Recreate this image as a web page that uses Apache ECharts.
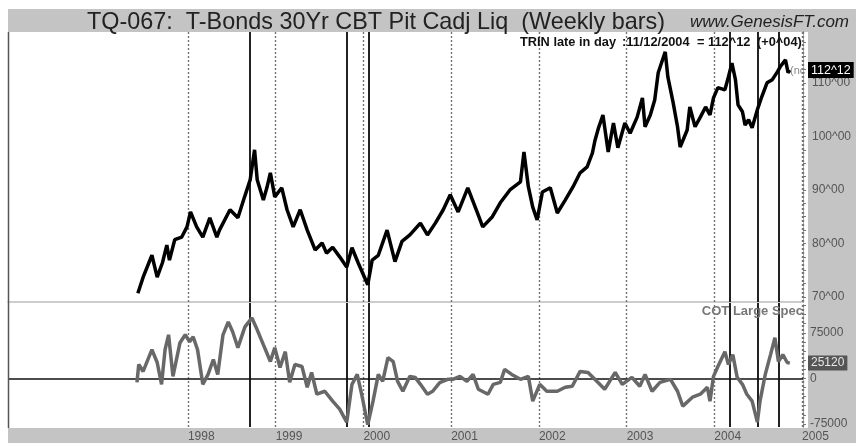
<!DOCTYPE html>
<html><head><meta charset="utf-8">
<script src="https://cdn.jsdelivr.net/npm/echarts@6/dist/echarts.min.js"></script>
<style>html,body{margin:0;padding:0;background:#fff}#c{width:856px;height:443px}</style>
</head><body><div id="c"></div>
<script>
// ---- Data ----
const priceDates = [1997.43,1997.49,1997.59,1997.65,1997.71,1997.76,1997.79,1997.85,1997.93,1997.99,
  1998.03,1998.10,1998.17,1998.25,1998.33,1998.36,1998.48,1998.57,1998.65,1998.71,1998.76,1998.79,1998.86,1998.90,1998.94,1998.99,
  1999.07,1999.13,1999.20,1999.28,1999.36,1999.45,1999.53,1999.58,1999.65,1999.73,1999.81,1999.87,1999.94,
  2000.05,2000.10,2000.17,2000.27,2000.36,2000.44,2000.53,2000.65,2000.73,2000.82,2000.91,2000.99,
  2001.08,2001.19,2001.30,2001.36,2001.47,2001.56,2001.67,2001.79,2001.83,2001.88,2001.93,2001.98,
  2002.04,2002.13,2002.21,2002.30,2002.39,2002.47,2002.55,2002.61,2002.64,2002.68,2002.73,2002.79,2002.85,2002.90,2002.98,
  2003.04,2003.12,2003.18,2003.21,2003.27,2003.32,2003.36,2003.44,2003.47,2003.53,2003.58,2003.61,2003.69,2003.72,2003.78,2003.84,2003.90,2003.95,2003.99,
  2004.04,2004.12,2004.16,2004.20,2004.24,2004.27,2004.32,2004.35,2004.39,2004.43,2004.49,2004.54,2004.60,2004.66,2004.72,2004.75,2004.81,2004.84,2004.86];
const priceValues = [70.7,73.7,77.8,73.7,76.4,79.7,76.9,80.7,81.2,83.1,
  85.9,83.1,81.2,84.8,81.2,82.5,86.3,84.8,88.9,91.9,97.5,91.9,88.1,90.4,93.2,88.7,
  90.4,86.3,83.1,86.3,82.5,78.8,80.1,78.2,79.3,77.5,75.6,79.2,76.4,
  72.3,76.9,77.8,82.5,76.6,80.4,81.6,83.8,81.6,83.8,86.3,89.1,
  85.9,90.4,85.7,83.1,85.0,87.6,90.0,91.5,97.1,90.6,86.8,84.4,
  89.6,90.4,85.7,88.1,90.6,93.2,94.3,96.9,99.3,101.6,104.0,97.1,102.5,97.9,102.5,
  100.6,103.6,107.2,101.8,104.0,106.8,111.9,115.8,111.1,106.3,101.8,98.0,101.2,105.5,101.8,103.6,105.5,104.0,107.2,
  109.1,108.7,111.1,113.7,110.6,105.9,104.6,102.1,103.1,101.6,105.0,107.4,110.0,110.6,112.1,113.0,114.3,111.9,112.4];
const lastPrice = 112.375;   // 112^12

const cotDates = [1997.42,1997.44,1997.49,1997.59,1997.65,1997.70,1997.74,1997.78,1997.83,1997.91,1997.97,
  1998.02,1998.06,1998.11,1998.17,1998.23,1998.29,1998.34,1998.40,1998.46,1998.51,1998.57,1998.65,1998.73,1998.79,1998.86,1998.94,1998.99,
  1999.05,1999.11,1999.16,1999.22,1999.30,1999.36,1999.41,1999.47,1999.56,1999.65,1999.73,1999.81,1999.87,1999.93,1999.98,
  2000.05,2000.11,2000.17,2000.22,2000.28,2000.34,2000.39,2000.45,2000.53,2000.59,2000.65,2000.73,2000.79,2000.87,2000.96,
  2001.02,2001.10,2001.18,2001.25,2001.31,2001.42,2001.48,2001.56,2001.61,2001.69,2001.79,2001.88,2001.93,
  2002.01,2002.09,2002.21,2002.30,2002.38,2002.47,2002.56,2002.66,2002.75,2002.87,2002.95,
  2003.06,2003.15,2003.21,2003.29,2003.38,2003.50,2003.58,2003.64,2003.75,2003.84,2003.92,2003.95,2003.99,
  2004.04,2004.12,2004.16,2004.21,2004.26,2004.32,2004.37,2004.43,2004.49,2004.52,2004.58,2004.64,2004.69,2004.73,2004.78,2004.83,2004.86];
const cotValues = [-6500,22800,11400,47300,26100,-9800,47300,71700,3300,58700,71700,
  60300,68500,47300,-9800,6500,31000,6500,71700,92900,76600,50500,84800,99400,79900,55400,27700,50500,
  17900,44000,-6500,22800,19600,-14700,9800,-26100,-21200,-37500,-50500,-72000,-9800,6500,-26100,
  -76000,-37500,6500,-4900,34200,27700,-4900,-21200,3300,1600,-9800,-26100,-21200,-7000,-1600,
  -1600,3300,-4900,6500,-17900,-26100,-9800,-6500,14700,6500,-1600,3300,-37500,
  -9800,-21200,-21200,-14700,-13000,11400,9800,-4900,-17900,9800,-9800,
  1600,-13000,6500,-21200,-6500,-1600,-21200,-45600,-31000,-26100,-14700,-37500,3300,
  19600,44000,22800,39100,1600,-9800,-26100,-37500,-72000,-37500,6500,39100,66800,27700,39100,26100,25120];
const lastCot = 25120;

const yearTicks = [1998,1999,2000,2001,2002,2003,2004,2005];
const eventDates = [1998.71,1999.81,2000.06,2004.18,2004.49,2004.73];
const priceTickLabels = [70,80,90,100,110];
const cotTickLabels = [-75000,0,75000];

// ---- Chart ----
const FONT = 'Liberation Sans, Arial, sans-serif';
const toPairs = (xs, ys) => xs.map((x, i) => [x, ys[i]]);
const to32 = v => { const w = Math.floor(v); const t = Math.round((v - w) * 32); return w + '^' + String(t).padStart(2, '0'); };
const priceMinor = []; for (let v = 70; v <= 118; v += 2.5) priceMinor.push(v);
const cotMinor = []; for (let v = -75000; v <= 120000; v += 15000) cotMinor.push(v);

const XMIN = 1995.95, XMAX = 2005.01;
const vLines = () => [
  ...yearTicks.map(y => ({ xAxis: y, lineStyle: { color: '#737373', type: [2, 2], width: 1.4 } })),
  ...eventDates.map(d => ({ xAxis: d, lineStyle: { color: '#222', type: 'solid', width: 2 } }))
];
const HIDDEN = { color: 'rgba(0,0,0,0)', width: 0.01 };
const trinStyle = { fill: '#111', font: 'bold 12.8px ' + FONT, verticalAlign: 'middle' };

const chart = echarts.init(document.getElementById('c'), null, { renderer: 'canvas' });
chart.setOption({
  backgroundColor: '#fff',
  animation: false,
  grid: [
    { left: 8, right: 53, top: 32, height: 270 },
    { left: 8, right: 53, top: 303, height: 125 }
  ],
  xAxis: [
    { type: 'value', gridIndex: 0, min: XMIN, max: XMAX,
      axisLine: { show: true, lineStyle: { color: '#bdbdbd', width: 1.5 } },
      axisTick: { show: false }, axisLabel: { show: false }, splitLine: { show: false } },
    { type: 'value', gridIndex: 1, min: XMIN, max: XMAX,
      axisLine: { show: false }, axisTick: { show: false }, splitLine: { show: false },
      axisLabel: { show: true, customValues: yearTicks, formatter: v => String(Math.round(v)),
        align: 'left', color: '#555', fontSize: 12, fontFamily: FONT, margin: 4 } }
  ],
  yAxis: [
    { type: 'value', gridIndex: 0, position: 'right', min: 69.07, max: 119.5,
      axisLine: { show: true, lineStyle: { color: '#777', type: [2, 2], width: 1.3 } },
      axisTick: { show: true, customValues: priceMinor, length: 3, lineStyle: { color: '#777' } },
      axisLabel: { customValues: priceTickLabels, formatter: v => v + '^00', color: '#555',
        fontSize: 12, fontFamily: FONT, margin: 9 },
      splitLine: { show: false } },
    { type: 'value', gridIndex: 1, position: 'right', min: -80000, max: 124000,
      axisLine: { show: true, lineStyle: { color: '#777', type: [2, 2], width: 1.3 } },
      axisTick: { show: true, customValues: cotMinor, length: 3, lineStyle: { color: '#777' } },
      axisLabel: { customValues: cotTickLabels, formatter: v => String(v), color: '#555',
        fontSize: 12, fontFamily: FONT, margin: 7 },
      splitLine: { show: false } }
  ],
  series: [
    { type: 'line', xAxisIndex: 0, yAxisIndex: 0, data: toPairs(priceDates, priceValues),
      symbol: 'none', lineStyle: { color: '#000', width: 3.5 }, z: 5,
      markLine: { silent: true, symbol: 'none', animation: false, label: { show: false },
        data: [
          ...vLines(),
          { yAxis: lastPrice, lineStyle: HIDDEN,
            label: { show: true, position: 'end', distance: 5, formatter: () => to32(lastPrice),
              color: '#fff', backgroundColor: '#000', padding: [2, 3, 1, 3], fontSize: 12.5,
              fontFamily: FONT } }
        ] } },
    { type: 'line', xAxisIndex: 1, yAxisIndex: 1, data: toPairs(cotDates, cotValues),
      symbol: 'none', lineStyle: { color: '#686868', width: 3.5 }, z: 5,
      markLine: { silent: true, symbol: 'none', animation: false, label: { show: false },
        data: [
          ...vLines(),
          { yAxis: 0, lineStyle: { color: '#111', type: 'solid', width: 1.5 } },
          { yAxis: lastCot, lineStyle: HIDDEN,
            label: { show: true, position: 'end', distance: 5, formatter: () => String(lastCot),
              color: '#e8e8e8', backgroundColor: '#555', padding: [2, 3, 1, 3], fontSize: 12,
              fontFamily: FONT } }
        ] } }
  ],
  graphic: [
    { type: 'rect', shape: { x: 8, y: 9, width: 848, height: 23 }, style: { fill: '#c4c4c4' }, z: 0, silent: true },
    { type: 'rect', shape: { x: 808, y: 32, width: 48, height: 396 }, style: { fill: '#c4c4c4' }, z: 0, silent: true },
    { type: 'rect', shape: { x: 8, y: 428, width: 848, height: 15 }, style: { fill: '#c4c4c4' }, z: 0, silent: true },
    { type: 'line', shape: { x1: 8.5, y1: 32, x2: 8.5, y2: 428 }, style: { stroke: '#555', lineWidth: 1.5 }, z: 10, silent: true },
    { type: 'text', x: 87, y: 23, z: 20, style: { text: 'TQ-067:  T-Bonds 30Yr CBT Pit Cadj Liq  (Weekly bars)',
        fill: '#222', font: '23.4px ' + FONT, verticalAlign: 'middle' } },
    { type: 'text', x: 690, y: 22, z: 20, style: { text: 'www.GenesisFT.com',
        fill: '#222', font: 'italic 17px ' + FONT, verticalAlign: 'middle' } },
    { type: 'text', x: 520, y: 42, z: 20, style: Object.assign({ text: 'TRIN late in day' }, trinStyle) },
    { type: 'text', x: 622, y: 42, z: 20, style: Object.assign({ text: ':11/12/2004' }, trinStyle) },
    { type: 'text', x: 697, y: 42, z: 20, style: Object.assign({ text: '= 112^12' }, trinStyle) },
    { type: 'text', x: 757, y: 42, z: 20, style: Object.assign({ text: '(+0^04)' }, trinStyle) },
    { type: 'text', x: 790, y: 71, z: 20, style: { text: '(nc', fill: '#888', font: '11px ' + FONT, verticalAlign: 'middle' } },
    { type: 'text', x: 803, y: 311, z: 20, style: { text: 'COT Large Spec', fill: '#777',
        font: 'bold 13px ' + FONT, align: 'right', verticalAlign: 'middle' } }
  ]
});
</script></body></html>
